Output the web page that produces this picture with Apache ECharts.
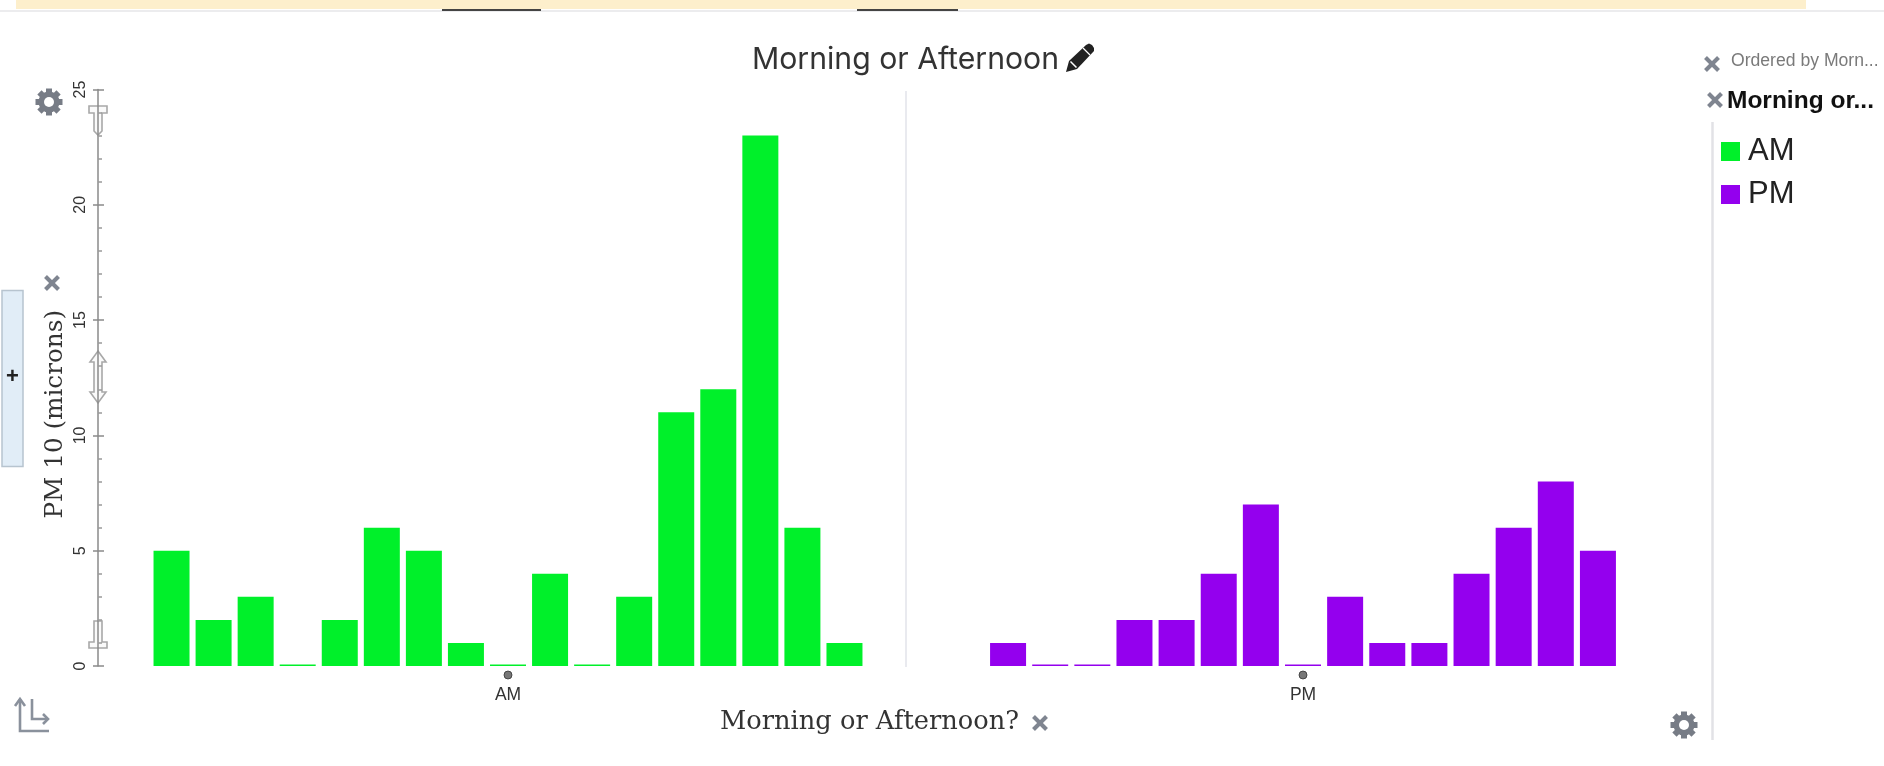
<!DOCTYPE html>
<html>
<head>
<meta charset="utf-8">
<style>html,body{margin:0;padding:0;background:#fff}#c{width:1884px;height:766px}</style>
<script src="https://cdn.jsdelivr.net/npm/echarts@6/dist/echarts.min.js"></script>
</head>
<body>
<div id="c"></div>
<script>
const amValues = [5,2,3,0,2,6,5,1,0,4,0,3,11,12,23,6,1];
const pmValues = [1,0,0,2,2,4,7,0,3,1,1,4,6,8,5];
const amIndex = amValues.map((_, i) => 'AM ' + (i + 1));
const pmIndex = pmValues.map((_, i) => 'PM ' + (i + 1));
const groupLabels = ['AM', 'PM'];
const chartTitle = 'Morning or Afternoon';
const xTitle = 'Morning or Afternoon?';
const yTitle = 'PM 10 (microns)';
const GREEN = '#00f02a', PURPLE = '#9400ee', ICON = '#7f8590';

function cross(cx, cy, r) {
  const s = {stroke: ICON, lineWidth: 4};
  return [
    {type:'line', silent:true, shape:{x1:cx-r,y1:cy-r,x2:cx+r,y2:cy+r}, style:s},
    {type:'line', silent:true, shape:{x1:cx-r,y1:cy+r,x2:cx+r,y2:cy-r}, style:s}
  ];
}
function gear(cx, cy) {
  const out = [];
  for (let a = 0; a < 4; a++) {
    const t = a * Math.PI / 4, r = 13.5;
    out.push({type:'line', silent:true,
      shape:{x1:cx-r*Math.cos(t),y1:cy-r*Math.sin(t),x2:cx+r*Math.cos(t),y2:cy+r*Math.sin(t)},
      style:{stroke:'#777c86', lineWidth:6}});
  }
  out.push({type:'circle', silent:true, shape:{cx,cy,r:10.5}, style:{fill:'#777c86'}});
  out.push({type:'circle', silent:true, shape:{cx,cy,r:5}, style:{fill:'#fff'}});
  return out;
}
const handleStyle = {fill:'#fafafa', stroke:'#a8a8a8', lineWidth:1.6};
const decor = [
  {type:'rect', silent:true, shape:{x:16,y:0,width:1790,height:9}, style:{fill:'#fdefcc'}},
  {type:'line', silent:true, shape:{x1:0,y1:11,x2:1884,y2:11}, style:{stroke:'#e6e6e8',lineWidth:1.5}},
  {type:'rect', silent:true, shape:{x:442,y:9,width:99,height:2}, style:{fill:'#444'}},
  {type:'rect', silent:true, shape:{x:857,y:9,width:101,height:2}, style:{fill:'#444'}},
  {type:'line', silent:true, shape:{x1:906,y1:91,x2:906,y2:667}, style:{stroke:'#e2e3ea',lineWidth:1.5}},
  {type:'line', silent:true, shape:{x1:1712.5,y1:122,x2:1712.5,y2:740}, style:{stroke:'#e2e2e6',lineWidth:2.5}},
  {type:'rect', silent:true, shape:{x:2,y:290.5,width:21,height:176}, style:{fill:'#e1edf7',stroke:'#b7c4cf',lineWidth:1.5}},
  {type:'text', silent:true, style:{x:12.5,y:377,text:'+',fill:'#222',font:'bold 22px "Liberation Sans"',align:'center',verticalAlign:'middle'}},
  ...gear(49,102), ...gear(1684,725),
  ...cross(52,283,6.5), ...cross(1712,64,6.5), ...cross(1715,100,6.5), ...cross(1040,723,6.5),
  {type:'polyline', silent:true, shape:{points:[[15,706],[20,699],[25,706]]}, style:{stroke:'#8a919c',fill:null,lineWidth:2.6}},
  {type:'polyline', silent:true, shape:{points:[[20,699],[20,731],[49,731]]}, style:{stroke:'#8a919c',fill:null,lineWidth:2.6}},
  {type:'polyline', silent:true, shape:{points:[[32,699],[32,719],[48,719]]}, style:{stroke:'#8a919c',fill:null,lineWidth:2.6}},
  {type:'polyline', silent:true, shape:{points:[[43,714],[48,719],[43,724]]}, style:{stroke:'#8a919c',fill:null,lineWidth:2.6}},
  {type:'polygon', silent:true, shape:{points:[[1066,72],[1069,61],[1086,45],[1089,43.5],[1092,45],[1094,48],[1094,51],[1077,69]]}, style:{fill:'#222'}},
  {type:'line', silent:true, shape:{x1:1070.5,y1:61.5,x2:1076.5,y2:67.5}, style:{stroke:'#fff',lineWidth:1.5}},
  {type:'line', silent:true, shape:{x1:1083,y1:48,x2:1090,y2:55}, style:{stroke:'#fff',lineWidth:1.2}},
  {type:'polygon', silent:true, shape:{points:[[89,106],[107,106],[107,113],[102,113],[102,131],[98,135],[94,131],[94,113],[89,113]]}, style:handleStyle},
  {type:'polygon', silent:true, shape:{points:[[89,648],[107,648],[107,642],[102,642],[102,621],[94,621],[94,642],[89,642]]}, style:handleStyle},
  {type:'polygon', silent:true, shape:{points:[[98,351],[106,362],[102,362],[102,392],[106,392],[98,403],[90,392],[94,392],[94,362],[90,362]]}, style:handleStyle},
  {type:'text', silent:true, style:{x:1731,y:61,text:'Ordered by Morn...',fill:'#7a7a7a',font:'17.6px "Liberation Sans"',verticalAlign:'middle'}},
  {type:'text', silent:true, style:{x:1727,y:101,text:'Morning or...',fill:'#111',font:'bold 24.5px "Liberation Sans"',verticalAlign:'middle'}}
];

const hiddenAxis = {show:false};
const option = {
  animation:false,
  backgroundColor:'#fff',
  textStyle:{fontFamily:'"Liberation Sans"'},
  title:[
    {text:chartTitle, left:747, top:40, textStyle:{fontFamily:'Inter',fontWeight:400,fontSize:30.2,color:'#333'}},
    {text:xTitle, left:715, top:704, textStyle:{fontFamily:'"DejaVu Serif"',fontWeight:'normal',fontSize:25.7,color:'#333'}}
  ],
  legend:{
    data:groupLabels, orient:'vertical', left:1716, top:131, itemWidth:19, itemHeight:19,
    itemGap:12, icon:'rect', selectedMode:false,
    textStyle:{fontSize:31,color:'#222',fontFamily:'"Liberation Sans"',padding:[0,0,0,3]}
  },
  grid:[
    {left:150.5, top:89.5, width:715, height:576.5},
    {left:987, top:89.5, width:632, height:576.5}
  ],
  xAxis:[
    {type:'category', gridIndex:0, data:amIndex, ...hiddenAxis},
    {type:'category', gridIndex:1, data:pmIndex, ...hiddenAxis},
    {type:'category', gridIndex:0, data:[groupLabels[0]], position:'bottom',
      axisLine:{show:false}, axisTick:{show:false}, axisLabel:{fontSize:17.5,color:'#333',margin:20}},
    {type:'category', gridIndex:1, data:[groupLabels[1]], position:'bottom',
      axisLine:{show:false}, axisTick:{show:false}, axisLabel:{fontSize:17.5,color:'#333',margin:20}}
  ],
  yAxis:[
    {type:'value', gridIndex:0, min:0, max:25, interval:5, position:'left', offset:52.5,
      name:yTitle, nameLocation:'middle', nameGap:30,
      nameTextStyle:{fontFamily:'"DejaVu Serif"',fontSize:24.7,color:'#333',padding:[0,73,0,0]},
      splitLine:{show:false},
      axisLine:{show:true,lineStyle:{color:'#8a8a8a',width:1.5}},
      axisTick:{show:true,length:5,lineStyle:{color:'#8a8a8a',width:1.5}},
      axisLabel:{rotate:90,fontSize:16,color:'#333',margin:9}},
    {type:'value', gridIndex:0, min:0, max:25, interval:5, position:'left', offset:52.5,
      splitLine:{show:false}, axisLabel:{show:false},
      axisLine:{show:false},
      axisTick:{show:true,inside:true,length:6,lineStyle:{color:'#8a8a8a',width:1.5}},
      minorTick:{show:true,splitNumber:5,length:4,lineStyle:{color:'#9a9a9a',width:1.5}}},
    {type:'value', gridIndex:1, min:0, max:25, interval:5, show:false}
  ],
  series:[
    {name:groupLabels[0], type:'bar', xAxisIndex:0, yAxisIndex:0, data:amValues, barWidth:36, barMinHeight:1.5,
      itemStyle:{color:GREEN}, silent:true},
    {name:groupLabels[1], type:'bar', xAxisIndex:1, yAxisIndex:2, data:pmValues, barWidth:36, barMinHeight:1.5,
      itemStyle:{color:PURPLE}, silent:true},
    {name:'AM anchor', type:'scatter', xAxisIndex:2, yAxisIndex:0, data:[[groupLabels[0],0]], symbolSize:8,
      symbolOffset:[0,9], clip:false, silent:true, itemStyle:{color:'#555',borderColor:'#333',borderWidth:1}},
    {name:'PM anchor', type:'scatter', xAxisIndex:3, yAxisIndex:2, data:[[groupLabels[1],0]], symbolSize:8,
      symbolOffset:[0,9], clip:false, silent:true, itemStyle:{color:'#555',borderColor:'#333',borderWidth:1}}
  ],
  graphic:decor
};
const chart = echarts.init(document.getElementById('c'), null, {renderer:'canvas'});
chart.setOption(option);
</script>
</body>
</html>
